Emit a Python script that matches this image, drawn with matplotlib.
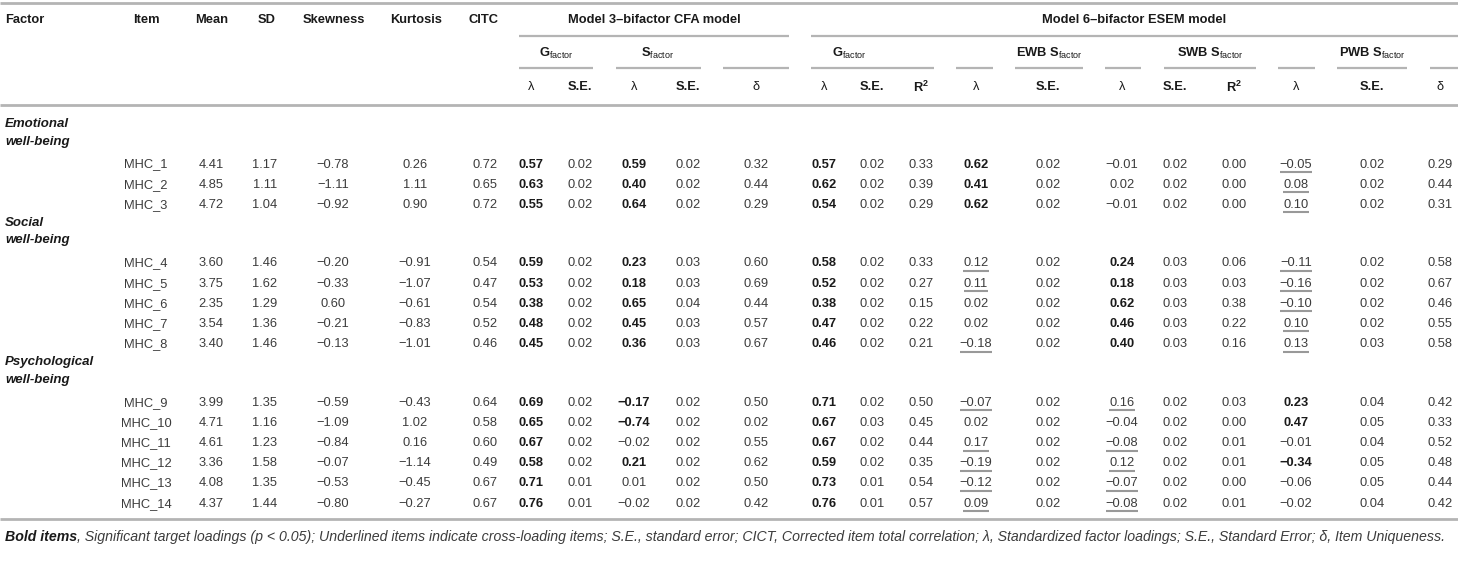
import matplotlib
matplotlib.use('Agg')
import matplotlib.pyplot as plt

plt.rcParams['font.family'] = ['Liberation Sans', 'DejaVu Sans']
plt.rcParams['mathtext.fontset'] = 'custom'
plt.rcParams['mathtext.rm'] = 'Liberation Sans'
plt.rcParams['mathtext.bf'] = 'Liberation Sans:bold'
plt.rcParams['mathtext.it'] = 'Liberation Sans:italic'

# ---- data ----
groups = [('Emotional', 'well-being'), ('Social', 'well-being'), ('Psychological', 'well-being')]
group_sizes = [3, 5, 6]
items = ['MHC_%d' % i for i in range(1, 15)]
mean = [4.41, 4.85, 4.72, 3.60, 3.75, 2.35, 3.54, 3.40, 3.99, 4.71, 4.61, 3.36, 4.08, 4.37]
sd = [1.17, 1.11, 1.04, 1.46, 1.62, 1.29, 1.36, 1.46, 1.35, 1.16, 1.23, 1.58, 1.35, 1.44]
skewness = [-0.78, -1.11, -0.92, -0.20, -0.33, 0.60, -0.21, -0.13, -0.59, -1.09, -0.84, -0.07, -0.53, -0.80]
kurtosis = [0.26, 1.11, 0.90, -0.91, -1.07, -0.61, -0.83, -1.01, -0.43, 1.02, 0.16, -1.14, -0.45, -0.27]
citc = [0.72, 0.65, 0.72, 0.54, 0.47, 0.54, 0.52, 0.46, 0.64, 0.58, 0.60, 0.49, 0.67, 0.67]

# Model 3 bifactor CFA
cfa_g_lam = [0.57, 0.63, 0.55, 0.59, 0.53, 0.38, 0.48, 0.45, 0.69, 0.65, 0.67, 0.58, 0.71, 0.76]
cfa_g_se = [0.02] * 12 + [0.01, 0.01]
cfa_s_lam = [0.59, 0.40, 0.64, 0.23, 0.18, 0.65, 0.45, 0.36, -0.17, -0.74, -0.02, 0.21, 0.01, -0.02]
cfa_s_se = [0.02, 0.02, 0.02, 0.03, 0.03, 0.04, 0.03, 0.03, 0.02, 0.02, 0.02, 0.02, 0.02, 0.02]
cfa_delta = [0.32, 0.44, 0.29, 0.60, 0.69, 0.44, 0.57, 0.67, 0.50, 0.02, 0.55, 0.62, 0.50, 0.42]

# Model 6 bifactor ESEM
esem_g_lam = [0.57, 0.62, 0.54, 0.58, 0.52, 0.38, 0.47, 0.46, 0.71, 0.67, 0.67, 0.59, 0.73, 0.76]
esem_g_se = [0.02] * 9 + [0.03, 0.02, 0.02, 0.01, 0.01]
esem_g_r2 = [0.33, 0.39, 0.29, 0.33, 0.27, 0.15, 0.22, 0.21, 0.50, 0.45, 0.44, 0.35, 0.54, 0.57]
ewb_lam = [0.62, 0.41, 0.62, 0.12, 0.11, 0.02, 0.02, -0.18, -0.07, 0.02, 0.17, -0.19, -0.12, 0.09]
ewb_se = [0.02] * 14
swb_lam = [-0.01, 0.02, -0.01, 0.24, 0.18, 0.62, 0.46, 0.40, 0.16, -0.04, -0.08, 0.12, -0.07, -0.08]
swb_se = [0.02, 0.02, 0.02, 0.03, 0.03, 0.03, 0.03, 0.03, 0.02, 0.02, 0.02, 0.02, 0.02, 0.02]
swb_r2 = [0.00, 0.00, 0.00, 0.06, 0.03, 0.38, 0.22, 0.16, 0.03, 0.00, 0.01, 0.01, 0.00, 0.01]
pwb_lam = [-0.05, 0.08, 0.10, -0.11, -0.16, -0.10, 0.10, 0.13, 0.23, 0.47, -0.01, -0.34, -0.06, -0.02]
pwb_se = [0.02, 0.02, 0.02, 0.02, 0.02, 0.02, 0.02, 0.03, 0.04, 0.05, 0.04, 0.05, 0.05, 0.04]
pwb_delta = [0.29, 0.44, 0.31, 0.58, 0.67, 0.46, 0.55, 0.58, 0.42, 0.33, 0.52, 0.48, 0.44, 0.42]

# b = bold (significant target loading), u = underlined (cross-loading)
cfa_g_sty = ['b'] * 14
cfa_s_sty = ['b'] * 10 + ['', 'b', '', '']
esem_g_sty = ['b'] * 14
ewb_sty = ['b', 'b', 'b', 'u', 'u', '', '', 'u', 'u', '', 'u', 'u', 'u', 'u']
swb_sty = ['', '', '', 'b', 'b', 'b', 'b', 'b', 'u', '', 'u', 'u', 'u', 'u']
pwb_sty = ['u', 'u', 'u', 'u', 'u', 'u', 'u', 'u', 'b', 'b', '', 'b', '', '']

footnote_bold = 'Bold items'
footnote_rest = (', Significant target loadings (p < 0.05); Underlined items indicate cross-loading items; '
                 'S.E., standard error; CICT, Corrected item total correlation; \u03bb, Standardized factor '
                 'loadings; S.E., Standard Error; \u03b4, Item Uniqueness.')

# ---- layout ----
W, H = 1458, 582
fig = plt.figure(figsize=(W / 100, H / 100), dpi=100)
ax = fig.add_axes([0, 0, 1, 1])
ax.set_xlim(0, W)
ax.set_ylim(H, 0)
ax.axis('off')

FS = 9.3
TXT = '#3c3c3c'
HDR = '#1a1a1a'
LINE = '#b4b4b4'


def fmt(v):
    s = '%.2f' % abs(v)
    return ('\u2212' + s) if v < 0 else s


def hline(x0, x1, y, lw=1.6, color=LINE):
    ax.plot([x0, x1], [y, y], color=color, lw=lw, solid_capstyle='butt')


# horizontal rules
hline(0, W, 3, 2.0)
hline(0, W, 105, 2.0)
hline(0, W, 519, 2.0)
# group underlines
hline(519, 789, 36)
hline(811, W, 36)
for x0, x1 in [(519, 593), (616, 701), (723, 789), (811, 934), (956, 993), (1015, 1083),
               (1105, 1141), (1164, 1256), (1278, 1315), (1337, 1407), (1430, W)]:
    hline(x0, x1, 68)

# header row 1
y1, y2, y3 = 20, 53, 87
ax.text(5, y1, 'Factor', ha='left', va='center', fontsize=FS, fontweight='bold', color=HDR)
for lab, x in [('Item', 146), ('Mean', 212), ('SD', 267), ('Skewness', 334),
               ('Kurtosis', 416), ('CITC', 484)]:
    ax.text(x, y1, lab, ha='center', va='center', fontsize=FS, fontweight='bold', color=HDR)
ax.text(654, y1, 'Model 3\u2013bifactor CFA model', ha='center', va='center',
        fontsize=FS, fontweight='bold', color=HDR)
ax.text(1134, y1, 'Model 6\u2013bifactor ESEM model', ha='center', va='center',
        fontsize=FS, fontweight='bold', color=HDR)

# header row 2
for lab, x in [(r'$\mathbf{G}_{\mathrm{factor}}$', 556), (r'$\mathbf{S}_{\mathrm{factor}}$', 658),
               (r'$\mathbf{G}_{\mathrm{factor}}$', 849), (r'$\mathbf{EWB\ S}_{\mathrm{factor}}$', 1049),
               (r'$\mathbf{SWB\ S}_{\mathrm{factor}}$', 1210), (r'$\mathbf{PWB\ S}_{\mathrm{factor}}$', 1372)]:
    ax.text(x, y2, lab, ha='center', va='center', fontsize=FS, color=HDR)

# columns: (x centre, header, values, styles)
cols = [
    (531, '\u03bb', cfa_g_lam, cfa_g_sty),
    (580, 'S.E.', cfa_g_se, None),
    (634, '\u03bb', cfa_s_lam, cfa_s_sty),
    (688, 'S.E.', cfa_s_se, None),
    (756, '\u03b4', cfa_delta, None),
    (824, '\u03bb', esem_g_lam, esem_g_sty),
    (872, 'S.E.', esem_g_se, None),
    (921, r'$\mathbf{R}^{\mathbf{2}}$', esem_g_r2, None),
    (976, '\u03bb', ewb_lam, ewb_sty),
    (1048, 'S.E.', ewb_se, None),
    (1122, '\u03bb', swb_lam, swb_sty),
    (1175, 'S.E.', swb_se, None),
    (1234, r'$\mathbf{R}^{\mathbf{2}}$', swb_r2, None),
    (1296, '\u03bb', pwb_lam, pwb_sty),
    (1372, 'S.E.', pwb_se, None),
    (1440, '\u03b4', pwb_delta, None),
]
for x, lab, vals, sty in cols:
    greek = lab in ('\u03bb', '\u03b4')
    ax.text(x, y3, lab, ha='center', va='center', fontsize=FS,
            fontweight='normal' if greek else 'bold', color=HDR)

# row positions
ROW = 20.2
rows_y = []
label_y = []
y = 123
for n in group_sizes:
    label_y.append(y)
    y += 41.5
    for k in range(n):
        rows_y.append(y)
        y += ROW
    y += 17 - ROW

for (l1, l2), yy in zip(groups, label_y):
    for s, dy in [(l1, 0), (l2, 17.5)]:
        ax.text(5, yy + dy + 1, s, ha='left', va='center', fontsize=FS + 0.2, fontweight='bold',
                fontstyle='italic', color=HDR)

left_cols = [(146, items), (211, mean), (265, sd), (333, skewness), (415, kurtosis), (485, citc)]
underlined = []
for i, yy in enumerate(rows_y):
    for x, vals in left_cols:
        v = vals[i]
        s = v if isinstance(v, str) else fmt(v)
        ax.text(x, yy, s, ha='center', va='center', fontsize=FS, color=TXT)
    for x, lab, vals, sty in cols:
        st = sty[i] if sty else ''
        t = ax.text(x, yy, fmt(vals[i]), ha='center', va='center', fontsize=FS,
                    fontweight='bold' if st == 'b' else 'normal',
                    color=HDR if st == 'b' else TXT)
        if st == 'u':
            underlined.append((t, yy))

# underline the cross-loading items
fig.canvas.draw()
r = fig.canvas.get_renderer()
for t, yy in underlined:
    bb = t.get_window_extent(renderer=r)
    hline(bb.x0, bb.x1, yy + 7.5, 1.5, '#999999')

# footnote
fy = 537
FFS = 10.2
t1 = ax.text(5, fy, footnote_bold, ha='left', va='center', fontsize=FFS,
             fontweight='bold', fontstyle='italic', color=HDR)
fig.canvas.draw()
bb = t1.get_window_extent(renderer=fig.canvas.get_renderer())
ax.text(bb.x1, fy, footnote_rest, ha='left', va='center', fontsize=FFS,
        fontstyle='italic', color=TXT)

fig.savefig('out.png', dpi=100)
